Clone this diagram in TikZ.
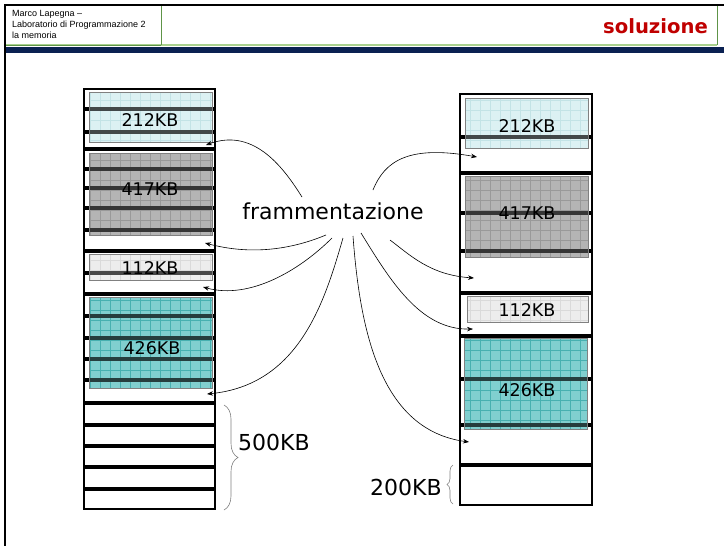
\documentclass[tikz,border=0pt]{standalone}
\usepackage{fontspec}
\setmainfont{DejaVu Sans}
\newfontfamily\arialfont{Liberation Sans}
\usetikzlibrary{arrows.meta,decorations.pathreplacing}
\definecolor{navybar}{HTML}{0B2152}
\definecolor{solred}{HTML}{C00000}
\definecolor{hdrgreen}{HTML}{5E9448}
\definecolor{hdrlight}{HTML}{A9D18E}
\definecolor{cyanfill}{HTML}{DCF1F3}
\definecolor{cyangrid}{HTML}{B9DDE1}
\definecolor{grayfill}{HTML}{B4B4B4}
\definecolor{graygrid}{HTML}{8E8E8E}
\definecolor{lightfill}{HTML}{EDEDED}
\definecolor{lightgrid}{HTML}{D2D2D2}
\definecolor{tealfill}{HTML}{80CFCF}
\definecolor{tealgrid}{HTML}{2FA4A4}
\newcommand\memblk[6]{%
  \fill[#5] (#1,#2) rectangle (#3,#4);
  \begin{scope}
    \clip (#1,#2) rectangle (#3,#4);
    \draw[#6, line width=0.5pt, step=10pt] (#1,#2) grid (#3,#4);
  \end{scope}}
\newcommand\memveil[5]{%
  \fill[#5, fill opacity=0.3] (#1,#2) rectangle (#3,#4);
  \draw[gray, line width=0.6pt] (#1,#2) rectangle (#3,#4);}
\begin{document}
\begin{tikzpicture}[x=1pt,y=-1pt,
  memcol/.style={draw=black,line width=1.8pt},
  part/.style={line width=3.6pt,black},
  lbl/.style={font=\fontsize{17.5}{20}\selectfont, inner sep=0pt},
  big/.style={font=\fontsize{22}{26}\selectfont, inner sep=0pt},
  conn/.style={-{Stealth[length=6pt,width=4.5pt]}, line width=0.6pt},
  brc/.style={decorate,draw=gray,line width=0.6pt}]
\useasboundingbox (0,0) rectangle (724,546);
\fill[white] (0,0) rectangle (724,546);

% header
\fill[navybar] (5,47) rectangle (724,53);
\draw[hdrlight, line width=1.5pt] (5,45) -- (717,45);
\draw[hdrgreen, line width=1pt] (5,45) -- (161,45);
\draw[hdrgreen, line width=0.8pt] (161,5) -- (161,45);
\draw[hdrgreen, line width=0.8pt] (717,5) -- (717,45);
\draw[line width=2pt] (5,546) -- (5,5) -- (724,5);
\node[anchor=north west, align=left, inner sep=0pt,
      font=\arialfont\fontsize{9}{11}\selectfont] (hdr) at (12,10)
  {Marco Lapegna –\\Laboratorio di Programmazione 2\\la memoria};
\node[anchor=base east, inner sep=0pt, text=solred,
      font=\bfseries\fontsize{19.6}{22}\selectfont] (title) at (708,33) {soluzione};

% left memory column
\draw[memcol] (84,89) rectangle (215,509);
\memblk{89}{92}{212}{142}{cyanfill}{cyangrid}
\memblk{89}{153}{212}{235}{grayfill}{graygrid}
\memblk{89}{254}{212}{280}{lightfill}{lightgrid}
\memblk{89}{297}{212}{388}{tealfill}{tealgrid}
\foreach \yy in {109,132,149,169,188,208,230,251,273,294,316,338,359,380,403,425,446,467,489}
  \draw[part] (84,\yy) -- (216,\yy);
\memveil{89}{92}{212}{142}{cyanfill}
\memveil{89}{153}{212}{235}{grayfill}
\memveil{89}{254}{212}{280}{lightfill}
\memveil{89}{297}{212}{388}{tealfill}
\node[lbl] (l212) at (150,120) {212KB};
\node[lbl] (l417) at (150,189) {417KB};
\node[lbl] (l112) at (150,268) {112KB};
\node[lbl] (l426) at (152,348) {426KB};

% right memory column
\draw[memcol] (460,94) rectangle (592,505);
\memblk{465}{98}{588}{148}{cyanfill}{cyangrid}
\memblk{465}{176}{588}{257}{grayfill}{graygrid}
\memblk{467}{296}{588}{322}{lightfill}{lightgrid}
\memblk{464}{338}{587}{429}{tealfill}{tealgrid}
\foreach \yy in {137,173,213,251,293,336,379,425,465}
  \draw[part] (460,\yy) -- (593,\yy);
\memveil{465}{98}{588}{148}{cyanfill}
\memveil{465}{176}{588}{257}{grayfill}
\memveil{467}{296}{588}{322}{lightfill}
\memveil{464}{338}{587}{429}{tealfill}
\node[lbl] (r212) at (527,126) {212KB};
\node[lbl] (r417) at (527,213) {417KB};
\node[lbl] (r112) at (527,310) {112KB};
\node[lbl] (r426) at (527,390) {426KB};

% free space labels
\draw[brc, decoration={brace,amplitude=14pt}] (224,405) -- (224,510);
\node[big] (l500) at (274,442) {500KB};
\draw[brc, decoration={brace,amplitude=6pt}] (453,504) -- (453,465);
\node[big] (r200) at (406,487) {200KB};

% frammentazione
\node[big, anchor=base] (fram) at (333,219) {frammentazione};
\coordinate (s1) at (302,197); \coordinate (t1) at (206,145);
\coordinate (s2) at (373,190); \coordinate (t2) at (477,157);
\coordinate (s3) at (326,235); \coordinate (t3) at (205,243);
\coordinate (s4) at (332,238); \coordinate (t4) at (203,287);
\coordinate (s5) at (343,238); \coordinate (t5) at (207,394);
\coordinate (s6) at (353,236); \coordinate (t6) at (469,442);
\coordinate (s7) at (361,233); \coordinate (t7) at (473,329);
\coordinate (s8) at (390,240); \coordinate (t8) at (474,278);
\draw[conn] (s1) .. controls (285,170) and (255,127) .. (t1);
\draw[conn] (s2) .. controls (385,160) and (410,145) .. (t2);
\draw[conn] (s3) .. controls (290,250) and (250,255) .. (t3);
\draw[conn] (s4) .. controls (300,270) and (250,300) .. (t4);
\draw[conn] (s5) .. controls (325,300) and (300,385) .. (t5);
\draw[conn] (s6) .. controls (360,330) and (380,430) .. (t6);
\draw[conn] (s7) .. controls (390,280) and (420,330) .. (t7);
\draw[conn] (s8) .. controls (410,255) and (430,275) .. (t8);
\end{tikzpicture}
\end{document}
